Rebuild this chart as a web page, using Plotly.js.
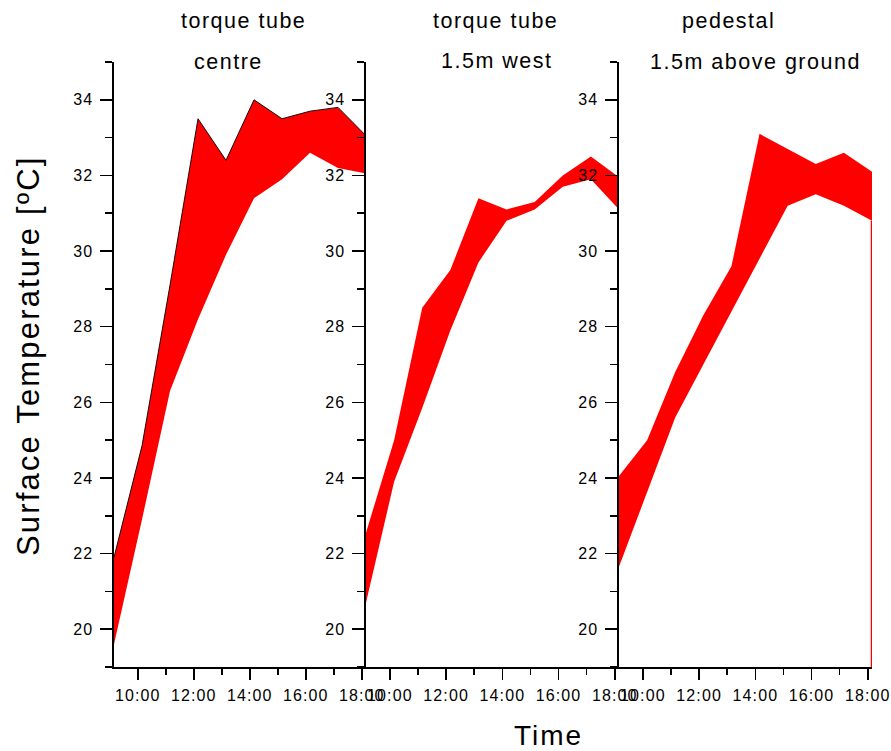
<!DOCTYPE html>
<html>
<head>
<meta charset="utf-8">
<script src="https://cdn.plot.ly/plotly-3.0.1.min.js"></script>
<style>
  html, body { margin: 0; padding: 0; background: #fff; }
  #chart { width: 891px; height: 751px; }
  .xaxislayer-above text, .yaxislayer-above text, .annotation-text { letter-spacing: 0.07em; }
</style>
</head>
<body>
<div id="chart"></div>
<script>
// ---- data (hours of day, °C) ----
var times = [9.15, 10.15, 11.15, 12.15, 13.15, 14.15, 15.15, 16.15, 17.15, 18.15];

var centreUpper = [21.9, 24.85, 29.1, 33.5, 32.4, 34.0, 33.5, 33.7, 33.8, 33.05];
var centreLower = [19.6, 22.9, 26.3, 28.2, 29.9, 31.4, 31.9, 32.6, 32.2, 32.05];

var westUpper = [22.55, 25.0, 28.5, 29.5, 31.4, 31.1, 31.3, 32.0, 32.5, 31.95];
var westLower = [20.7, 23.9, 25.85, 27.9, 29.7, 30.8, 31.1, 31.7, 31.9, 31.1];

var pedestalUpper = [24.05, 25.0, 26.8, 28.3, 29.6, 33.1, 32.7, 32.3, 32.6, 32.1];
var pedestalLower = [21.65, 23.6, 25.6, 27.0, 28.4, 29.8, 31.2, 31.5, 31.2, 30.8];

var xTickVals = [10, 12, 14, 16, 18];
var xTickText = ["10:00", "12:00", "14:00", "16:00", "18:00"];
var xMinorVals = [11, 13, 15, 17];
var yTickVals = [20, 22, 24, 26, 28, 30, 32, 34];
var yTickText = ["20", "22", "24", "26", "28", "30", "32", "34"];
var yMinorVals = [19, 21, 23, 25, 27, 29, 31, 33, 35];

var panelTitles = [["torque tube", "centre"], ["torque tube", "1.5m west"], ["pedestal", "1.5m above ground"]];

// ---- layout helpers ----
var W = 891, H = 751;
var M = {l: 114, r: 19, t: 62, b: 84};
var PW = W - M.l - M.r, PH = H - M.t - M.b;
function px(x) { return (x - M.l) / PW; }
function py(y) { return (H - M.b - y) / PH; }
var xRange = [9.15, 18.15];
var yRange = [19, 35];
var domains = [[0, px(366)], [px(366), px(619)], [px(619), 1]];
var FONT = "Liberation Sans, Arial, Helvetica, sans-serif";

var panels = [
  {upper: centreUpper, lower: centreLower},
  {upper: westUpper, lower: westLower},
  {upper: pedestalUpper, lower: pedestalLower}
];

var traces = [];
panels.forEach(function (p, i) {
  var xa = i === 0 ? 'x' : 'x' + (i + 1);
  var ya = i === 0 ? 'y' : 'y' + (i + 1);
  traces.push({
    x: times, y: p.upper, type: 'scatter', mode: 'lines',
    fill: 'tozeroy', fillcolor: '#ff0000',
    line: {color: i === 0 ? '#000000' : '#ff0000', width: i === 0 ? 0.9 : 0},
    xaxis: xa, yaxis: ya, hoverinfo: 'skip', showlegend: false
  });
  traces.push({
    x: times, y: p.lower, type: 'scatter', mode: 'lines',
    fill: 'tozeroy', fillcolor: '#ffffff',
    line: {color: '#ffffff', width: 0},
    xaxis: xa, yaxis: ya, hoverinfo: 'skip', showlegend: false
  });
  var last = times.length - 1;
  traces.push({
    x: [times[last], times[last]], y: [yRange[0], p.lower[last]],
    type: 'scatter', mode: 'lines', line: {color: '#ff0000', width: 2.5},
    xaxis: xa, yaxis: ya, hoverinfo: 'skip', showlegend: false
  });
});

function xAxis(i) {
  return {
    domain: domains[i], range: xRange, anchor: i === 0 ? 'y' : 'y' + (i + 1),
    tickmode: 'array', tickvals: xTickVals, ticktext: xTickText,
    ticks: 'outside', ticklen: 11, tickwidth: 1.6, tickcolor: '#000',
    showline: true, linecolor: '#000', linewidth: 1.6,
    showgrid: false, zeroline: false, tickangle: 0,
    ticklabelstandoff: 2,
    tickfont: {family: FONT, size: 16, color: '#000'},
    minor: {tickmode: 'array', tickvals: xMinorVals, ticks: 'outside', ticklen: 6,
            tickwidth: 1.6, tickcolor: '#000', showgrid: false},
    fixedrange: true
  };
}
function yAxis(i) {
  return {
    range: yRange, anchor: i === 0 ? 'x' : 'x' + (i + 1),
    tickmode: 'array', tickvals: yTickVals, ticktext: yTickText,
    ticks: 'outside', ticklen: 12, tickwidth: 1.6, tickcolor: '#000',
    showline: true, linecolor: '#000', linewidth: 1.6,
    showgrid: false, zeroline: false,
    ticklabelstandoff: 4,
    tickfont: {family: FONT, size: 16, color: '#000'},
    minor: {tickmode: 'array', tickvals: yMinorVals, ticks: 'outside', ticklen: 7,
            tickwidth: 1.6, tickcolor: '#000', showgrid: false},
    fixedrange: true
  };
}

var titlePos = [
  [[243, 21], [228, 62]],
  [[495, 21], [497, 61]],
  [[728, 21], [755, 62]]
];
var annotations = [];
panelTitles.forEach(function (t, i) {
  t.forEach(function (txt, j) {
    annotations.push({
      text: txt, xref: 'paper', yref: 'paper',
      x: px(titlePos[i][j][0]), y: py(titlePos[i][j][1]),
      xanchor: 'center', yanchor: 'middle', showarrow: false,
      font: {family: FONT, size: 21.5, color: '#000'}
    });
  });
});
annotations.push({
  text: 'Time', xref: 'paper', yref: 'paper', x: px(548), y: py(735),
  xanchor: 'center', yanchor: 'middle', showarrow: false,
  font: {family: FONT, size: 28, color: '#000'}
});
annotations.push({
  text: 'Surface Temperature [ºC]', xref: 'paper', yref: 'paper', x: px(28), y: py(356),
  xanchor: 'center', yanchor: 'middle', showarrow: false, textangle: -90,
  font: {family: FONT, size: 31, color: '#000'}
});

var layout = {
  width: W, height: H, margin: M,
  paper_bgcolor: '#ffffff', plot_bgcolor: '#ffffff',
  showlegend: false,
  xaxis: xAxis(0), xaxis2: xAxis(1), xaxis3: xAxis(2),
  yaxis: yAxis(0), yaxis2: yAxis(1), yaxis3: yAxis(2),
  annotations: annotations
};

Plotly.newPlot('chart', traces, layout, {staticPlot: true, displayModeBar: false});
</script>
</body>
</html>
